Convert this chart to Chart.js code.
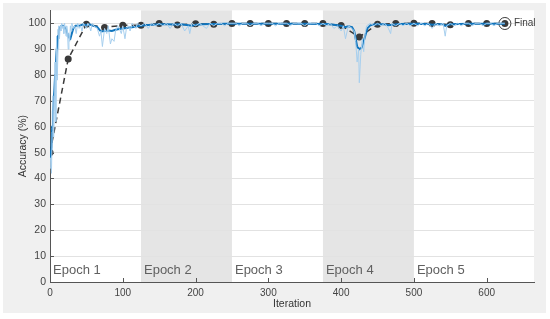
<!DOCTYPE html>
<html>
<head>
<meta charset="utf-8">
<script src="https://cdn.jsdelivr.net/npm/chart.js@4"></script>
<style>
    html, body { margin: 0; padding: 0; background: #ffffff; }
    #wrap { width: 550px; height: 319px; }
</style>
</head>
<body>
<div id="wrap"><canvas id="progress-chart" width="550" height="319"></canvas></div>
<script>
// training accuracy, raw per-iteration values
const trainIter = [0, 1, 2, 3, 4, 5, 6, 7, 8, 9, 10, 11, 12, 13, 14, 15, 16, 17, 18, 19, 20,
    21, 22, 23, 24, 25, 26, 27, 28, 29, 30, 32, 34, 36, 38, 40, 42, 44, 46, 48, 50, 52, 54, 56, 58,
    60, 65, 68, 70, 72, 75, 78, 80, 83, 85, 88, 90, 93, 95, 98, 100, 103, 105, 108, 110, 113, 115, 118, 120, 125,
    130, 135, 140, 145, 150, 155, 160, 165, 170, 175, 180, 185, 190, 192, 195, 200, 205, 210, 215, 220, 225, 230, 235, 240, 245, 250,
    255, 260, 265, 270, 275, 280, 285, 290, 295, 300, 305, 310, 315, 320, 325, 330, 335, 340, 345, 350, 355, 360, 365, 370, 375,
    380, 385, 390, 395, 400, 403, 406, 410, 415, 418, 420, 422, 424, 425, 427, 429, 431, 433, 435, 440, 445, 450, 455, 460, 465, 468, 470, 475, 480, 485, 490, 495, 500,
    505, 510, 515, 520, 525, 530, 535, 540, 543, 545, 550, 555, 560, 565, 570, 575, 580, 585, 590, 595, 600, 605, 610, 615, 620, 625];
const trainAcc = [44, 48, 42, 58, 72, 56, 66, 85, 62, 95, 78, 90, 99, 94, 99, 97, 100, 98, 99, 96, 100,
    98, 95, 99, 97, 90, 96, 93, 99, 97, 100, 98, 99, 96, 100, 98, 99, 97, 100, 99, 98, 100, 99, 97, 100,
    99, 98, 95, 97, 91, 98, 96, 99, 92, 94, 93, 97, 99, 98, 96, 99, 94, 98, 99, 97, 100, 99, 98, 100, 99,
    100, 98, 100, 99, 100, 99, 100, 98, 100, 99, 100, 97, 99, 96, 100, 99, 100, 99, 98, 100, 99, 100, 100, 99, 100, 100,
    100, 99, 100, 100, 99, 100, 100, 99, 100, 100, 100, 99, 100, 100, 100, 99, 100, 100, 100, 99, 100, 100, 100, 99, 100,
    99, 100, 98, 99, 97, 99, 94, 99, 98, 97, 93, 85, 90, 77, 88, 94, 89, 96, 99, 100, 99, 100, 99, 100, 98, 96, 100, 99, 100, 99, 100, 99, 100,
    99, 100, 99, 100, 98, 100, 99, 100, 95, 99, 100, 99, 100, 99, 100, 100, 99, 100, 100, 99, 100, 100, 99, 100, 100, 100];

// smoothed training accuracy
const smoothIter = [0, 2, 3, 4, 5, 6, 7, 8, 9, 10, 11, 12, 14, 16, 18, 20, 22, 24, 26, 28, 30, 32, 35, 40, 45, 50,
    55, 60, 65, 70, 75, 80, 85, 90, 95, 100, 105, 110, 115, 120, 125, 130, 140, 150, 160, 170, 180, 190, 195, 200,
    210, 220, 230, 240, 250, 300, 350, 380, 390, 400, 405, 410, 415, 418, 420, 422, 425, 428, 430, 433, 436, 440,
    445, 450, 460, 465, 470, 480, 500, 520, 525, 530, 540, 543, 546, 550, 575, 600, 625];
const smoothAcc = [47, 52, 60, 66, 70, 74, 80, 84, 89, 92, 95, 97.5, 98.5, 99, 99, 98.5, 97.5, 96, 94.5, 94, 96, 98, 99, 99, 99.5, 99.3,
    99.5, 99, 98.5, 96.8, 97, 97.2, 97, 97.5, 97.8, 98, 98.2, 98.4, 98.5, 98.8, 99, 99.2, 99.4, 99.6, 99.6, 99.5, 99.6, 99.2, 99, 99.4,
    99.6, 99.7, 99.7, 99.8, 99.8, 99.8, 99.8, 99.7, 99.4, 99, 98.5, 98.8, 98.5, 97, 94, 91, 90, 90.5, 92, 95, 98, 99.2,
    99.5, 99.6, 99.6, 99.2, 99.4, 99.7, 99.8, 99.7, 99.4, 99.6, 99.6, 99, 99.3, 99.6, 99.8, 99.8, 99.8];

// validation accuracy, every 25 iterations
const valIter = [0, 25, 50, 75, 100, 125, 150, 175, 200, 225, 250, 275, 300, 325, 350, 375, 400, 425, 450, 475, 500, 525, 550, 575, 600, 625];
const valAcc = [50, 86.2, 99.6, 98.4, 99.2, 99.2, 99.9, 99.3, 99.8, 99.6, 99.9, 99.9, 99.9, 99.9, 99.9, 99.9, 99.1, 94.7, 99.6, 99.9, 100, 99.9, 99.4, 99.9, 99.9, 99.9];

const epochStarts = [0, 125, 250, 375, 500];
const epochEnds = [125, 250, 375, 500, 625];
const epochLabels = ["Epoch 1", "Epoch 2", "Epoch 3", "Epoch 4", "Epoch 5"];

const toPoints = (xs, ys) => xs.map((x, i) => ({ x: x, y: ys[i] }));

const textFont = '"Liberation Sans", Arial, sans-serif';

// figure panel, epoch shading, inward ticks, epoch names, Final label
const trainingPlot = {
    id: 'trainingPlot',
    beforeDraw(chart) {
        const ctx = chart.ctx;
        const area = chart.chartArea;
        const xs = chart.scales.x;
        ctx.save();
        ctx.fillStyle = '#f0f0f0';
        ctx.fillRect(3, 3, 543, 310);
        ctx.fillStyle = '#ffffff';
        ctx.fillRect(area.left, area.top, area.right - area.left, area.bottom - area.top);
        ctx.fillStyle = '#e5e5e5';
        epochStarts.forEach((s, i) => {
            if (i % 2 === 1) {
                const x0 = xs.getPixelForValue(s);
                const x1 = xs.getPixelForValue(epochEnds[i]);
                ctx.fillRect(x0, area.top, x1 - x0, area.bottom - area.top);
            }
        });
        ctx.restore();
    },
    beforeDatasetsDraw(chart) {
        const ctx = chart.ctx;
        const area = chart.chartArea;
        const xs = chart.scales.x;
        const ys = chart.scales.y;
        ctx.save();
        ctx.strokeStyle = '#555555';
        ctx.lineWidth = 1;
        ctx.beginPath();
        xs.ticks.forEach(t => {
            const px = Math.round(xs.getPixelForValue(t.value)) + 0.5;
            ctx.moveTo(px, area.bottom);
            ctx.lineTo(px, area.bottom - 4);
        });
        ys.ticks.forEach(t => {
            const py = Math.round(ys.getPixelForValue(t.value)) + 0.5;
            ctx.moveTo(area.left, py);
            ctx.lineTo(area.left + 4, py);
        });
        ctx.stroke();
        ctx.fillStyle = '#606060';
        ctx.font = '13px ' + textFont;
        ctx.textBaseline = 'alphabetic';
        ctx.textAlign = 'left';
        epochLabels.forEach((label, i) => {
            ctx.fillText(label, xs.getPixelForValue(epochStarts[i]) + 3, area.bottom - 8);
        });
        ctx.restore();
    },
    afterDatasetsDraw(chart) {
        const ctx = chart.ctx;
        const meta = chart.getDatasetMeta(3);
        const pt = meta.data[0];
        ctx.save();
        ctx.fillStyle = '#404040';
        ctx.font = '10px ' + textFont;
        ctx.textBaseline = 'middle';
        ctx.textAlign = 'left';
        ctx.fillText('Final', pt.x + 9, pt.y);
        ctx.restore();
    }
};

const progressCanvas = document.getElementById("progress-chart").getContext("2d");

let progressChart = new Chart(progressCanvas, {
    type: 'line',
    data: {
        datasets: [{
            label: 'Training (raw)',
            data: toPoints(trainIter, trainAcc),
            borderColor: '#a7cfee',
            borderWidth: 1,
            pointRadius: 0,
            tension: 0
        }, {
            label: 'Training (smoothed)',
            data: toPoints(smoothIter, smoothAcc),
            borderColor: '#0f74bd',
            borderWidth: 2,
            pointRadius: 0,
            tension: 0
        }, {
            label: 'Validation',
            data: toPoints(valIter, valAcc),
            borderColor: '#3a3a3a',
            borderWidth: 1.5,
            borderDash: [6, 4],
            pointRadius: 3.5,
            pointBackgroundColor: '#3a3a3a',
            pointBorderColor: '#3a3a3a',
            pointBorderWidth: 0,
            tension: 0
        }, {
            label: 'Final',
            data: [{ x: valIter[valIter.length - 1], y: valAcc[valAcc.length - 1] }],
            showLine: false,
            pointRadius: 6,
            pointBackgroundColor: 'rgba(0,0,0,0)',
            pointBorderColor: '#3a3a3a',
            pointBorderWidth: 1
        }]
    },
    options: {
        responsive: false,
        animation: false,
        events: [],
        layout: {
            padding: { left: 3, right: 16, top: 10, bottom: 0 }
        },
        scales: {
            x: {
                type: 'linear',
                min: 0,
                max: 665,
                afterFit: s => { s.height = 37; },
                ticks: {
                    stepSize: 100,
                    includeBounds: false,
                    maxRotation: 0,
                    padding: 5,
                    color: '#444444',
                    font: { family: textFont, size: 10 }
                },
                grid: { display: false, drawTicks: false },
                border: { display: true, color: '#555555', width: 1 },
                title: {
                    display: true,
                    text: 'Iteration',
                    color: '#333333',
                    padding: { top: 1, bottom: 9 },
                    font: { family: textFont, size: 10.5 }
                }
            },
            y: {
                min: 0,
                max: 105,
                afterFit: s => { s.width = 47; },
                ticks: {
                    stepSize: 10,
                    includeBounds: false,
                    padding: 4,
                    color: '#444444',
                    font: { family: textFont, size: 10.5 }
                },
                grid: { color: '#e2e2e2', drawTicks: false },
                border: { display: true, color: '#555555', width: 1 },
                title: {
                    display: true,
                    text: 'Accuracy (%)',
                    color: '#333333',
                    padding: { top: 14, bottom: 0 },
                    font: { family: textFont, size: 10.5 }
                }
            }
        },
        plugins: {
            legend: { display: false },
            tooltip: { enabled: false }
        }
    },
    plugins: [trainingPlot]
});
</script>
</body>
</html>
